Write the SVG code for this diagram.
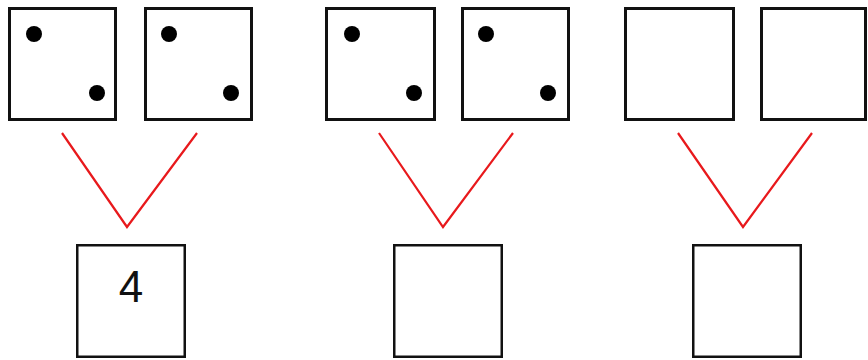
<svg xmlns="http://www.w3.org/2000/svg" width="868" height="360" viewBox="0 0 868 360">
<style>
.die{fill:#fff;stroke:#111;stroke-width:3}
.ans{fill:#fff;stroke:#111;stroke-width:2.5}
.pip{fill:#000}
.v{fill:none;stroke:#e8191c;stroke-width:2.2;stroke-linejoin:miter}
.num{font-family:"Liberation Sans",Arial,sans-serif;font-size:44px;fill:#111;text-anchor:middle}
</style>
<rect width="868" height="360" fill="#fff"/>
<g id="die1"><rect class="die" x="9.5" y="8.5" width="106" height="111"/><circle class="pip" cx="34" cy="34" r="8"/><circle class="pip" cx="97" cy="93" r="8"/></g>
<g id="die2"><rect class="die" x="145.5" y="8.5" width="106" height="111"/><circle class="pip" cx="169" cy="34" r="8"/><circle class="pip" cx="231" cy="93" r="8"/></g>
<g id="die3"><rect class="die" x="326.5" y="8.5" width="108" height="111"/><circle class="pip" cx="352" cy="34" r="8"/><circle class="pip" cx="414" cy="93" r="8"/></g>
<g id="die4"><rect class="die" x="462.5" y="8.5" width="106" height="111"/><circle class="pip" cx="486" cy="34" r="8"/><circle class="pip" cx="548" cy="93" r="8"/></g>
<g id="die5"><rect class="die" x="625.5" y="8.5" width="108" height="111"/></g>
<g id="die6"><rect class="die" x="761.5" y="8.5" width="104" height="111"/></g>
<g id="connectors">
<polyline class="v" points="62,133 127,227 197,133"/>
<polyline class="v" points="379,133 443,227 513,133"/>
<polyline class="v" points="678,133 743,227 812,133"/>
</g>
<g id="answer1"><rect class="ans" x="77.25" y="245.25" width="107.5" height="111.5"/><text class="num" x="131" y="302">4</text></g>
<g id="answer2"><rect class="ans" x="394.25" y="245.25" width="107.5" height="111.5"/></g>
<g id="answer3"><rect class="ans" x="693.25" y="245.25" width="107.5" height="111.5"/></g>
</svg>
